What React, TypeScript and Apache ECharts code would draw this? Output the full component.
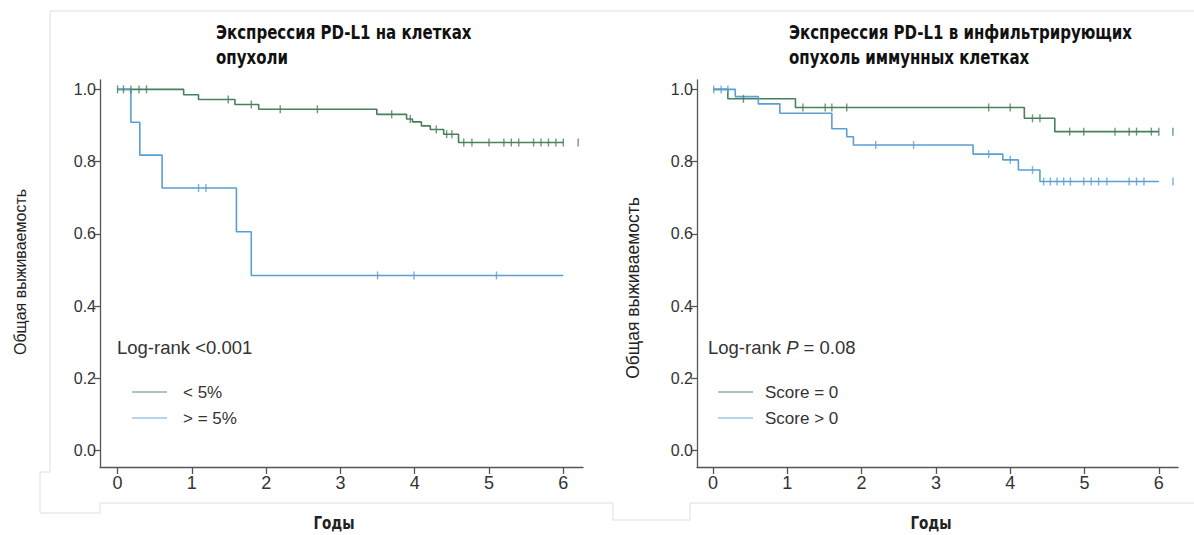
import React, { useEffect, useRef } from "react";
import * as echarts from "echarts";

// ---- axis ticks ----
const xTickValues = [0, 1, 2, 3, 4, 5, 6];
const yTickValues = [0, 0.2, 0.4, 0.6, 0.8, 1.0];

// ---- left panel: PD-L1 on tumour cells ----
const leftLowTimes = [0, 0.89, 1.09, 1.58, 1.9, 3.49, 3.89, 3.97, 4.09, 4.21, 4.39, 4.59, 6.0];
const leftLowSurv = [1, 0.985, 0.972, 0.958, 0.945, 0.931, 0.918, 0.91, 0.899, 0.889, 0.876, 0.853, 0.853];
const leftLowCensor = [0.0, 0.08, 0.18, 0.29, 0.39, 1.49, 1.8, 2.19, 2.69, 3.69, 3.94, 4.29, 4.43, 4.5, 4.66, 4.77, 5.0, 5.2, 5.3, 5.4, 5.6, 5.7, 5.8, 5.9, 6.0, 6.2];

const leftHighTimes = [0, 0.18, 0.3, 0.6, 1.6, 1.8, 6.0];
const leftHighSurv = [1, 0.909, 0.818, 0.727, 0.606, 0.485, 0.485];
const leftHighCensor = [1.09, 1.19, 3.5, 3.99, 5.1];

// ---- right panel: PD-L1 on tumour-infiltrating immune cells ----
const rightZeroTimes = [0, 0.2, 1.11, 4.19, 4.6, 6.0];
const rightZeroSurv = [1, 0.974, 0.95, 0.92, 0.883, 0.883];
const rightZeroCensor = [0.41, 1.21, 1.51, 1.6, 1.8, 3.71, 4.0, 4.3, 4.4, 4.8, 4.99, 5.41, 5.6, 5.7, 5.9, 6.0, 6.19];

const rightPosTimes = [0, 0.3, 0.61, 0.9, 1.6, 1.8, 1.89, 3.5, 3.9, 4.11, 4.4, 6.0];
const rightPosSurv = [1, 0.98, 0.96, 0.934, 0.891, 0.869, 0.846, 0.821, 0.805, 0.777, 0.745, 0.745];
const rightPosCensor = [0.01, 0.11, 0.2, 2.19, 2.7, 3.71, 4.0, 4.3, 4.45, 4.54, 4.63, 4.72, 4.81, 4.99, 5.09, 5.19, 5.3, 5.6, 5.7, 5.8, 6.19];

// ---- texts ----
const leftTitle = "Экспрессия PD-L1 на клетках\nопухоли";
const rightTitle = "Экспрессия PD-L1 в инфильтрирующих\nопухоль иммунных клетках";
const yName = "Общая выживаемость";
const xName = "Годы";
const leftLegend = ["< 5%", "> = 5%"];
const rightLegend = ["Score = 0", "Score > 0"];

const GREEN = "#47805c";
const BLUE = "#5a9fd3";
const BOLDF = "'DejaVu Sans', 'Liberation Sans', sans-serif";
const SANS = "'Liberation Sans', Arial, Helvetica, sans-serif";

function pairs(t: number[], s: number[]) {
  return t.map((v, i) => [v, s[i]]);
}
function survAt(t: number[], s: number[], x: number) {
  let v = s[0];
  for (let i = 0; i < t.length; i++) if (t[i] <= x) v = s[i];
  return v;
}
function censorPts(t: number[], s: number[], c: number[]) {
  return c.map((x) => [x, survAt(t, s, x)]);
}

export default function App() {
  const ref = useRef<HTMLDivElement>(null);
  useEffect(() => {
    if (!ref.current) return;
    const chart = echarts.init(ref.current, undefined, { renderer: "svg" });

    const xAxisBase = (grid: number, min: number, max: number) => ({
      type: "value",
      gridIndex: grid,
      min,
      max,
      splitLine: { show: false },
      axisLine: { onZero: false, lineStyle: { color: "#555", width: 1.3 } },
      axisTick: { customValues: xTickValues, length: 7, lineStyle: { color: "#555", width: 1.3 } },
      axisLabel: { customValues: xTickValues, margin: 7, fontSize: 18, color: "#333", fontFamily: SANS },
    });
    const yAxisBase = (grid: number) => ({
      type: "value",
      gridIndex: grid,
      min: -0.045,
      max: 1.026,
      splitLine: { show: false },
      axisLine: { onZero: false, lineStyle: { color: "#555", width: 1.3 } },
      axisTick: { customValues: yTickValues, length: 6, lineStyle: { color: "#555", width: 1.3 } },
      axisLabel: {
        customValues: yTickValues,
        margin: 4,
        fontSize: 16,
        color: "#333",
        fontFamily: SANS,
        formatter: (v: number) => v.toFixed(1),
      },
    });

    const lineSeries = (name: string, idx: number, data: number[][], color: string) => ({
      name,
      type: "line",
      step: "end",
      xAxisIndex: idx,
      yAxisIndex: idx,
      data,
      symbol: "none",
      lineStyle: { color, width: 1.6 },
      z: 3,
    });
    const censorSeries = (name: string, idx: number, data: number[][], color: string) => ({
      name: name + " censor",
      type: "scatter",
      xAxisIndex: idx,
      yAxisIndex: idx,
      data,
      symbol: "rect",
      symbolSize: [1.4, 8],
      itemStyle: { color },
      z: 4,
    });

    const frame = "#dedede";
    const legendItems = (x0: number, x1: number, tx: number, labels: string[]) => [
      { type: "line", shape: { x1: x0, y1: 392, x2: x1, y2: 392 }, style: { stroke: GREEN, lineWidth: 1.4, opacity: 0.6 } },
      { type: "line", shape: { x1: x0, y1: 418, x2: x1, y2: 418 }, style: { stroke: BLUE, lineWidth: 1.4, opacity: 0.6 } },
      { type: "text", x: tx, y: 392, style: { text: labels[0], fontSize: 17, fontFamily: SANS, fill: "#333", verticalAlign: "middle" } },
      { type: "text", x: tx, y: 418, style: { text: labels[1], fontSize: 17, fontFamily: SANS, fill: "#333", verticalAlign: "middle" } },
    ];
    const titleText = (x: number, text: string) => ({
      type: "text",
      x,
      y: 20,
      scaleX: 0.77,
      style: { text, fontSize: 19.5, fontWeight: "bold", fontFamily: BOLDF, fill: "#111", lineHeight: 25, verticalAlign: "top" },
    });
    const xNameText = (x: number) => ({
      type: "text",
      x,
      y: 523,
      scaleX: 0.8,
      style: { text: xName, fontSize: 17, fontWeight: "bold", fontFamily: BOLDF, fill: "#222", align: "center", verticalAlign: "middle" },
    });

    chart.setOption({
      animation: false,
      backgroundColor: "#ffffff",
      grid: [
        { left: 100, top: 80, width: 483, height: 387 },
        { left: 697, top: 80, width: 481, height: 387 },
      ],
      xAxis: [xAxisBase(0, -0.236, 6.265), xAxisBase(1, -0.215, 6.258)],
      yAxis: [yAxisBase(0), yAxisBase(1)],
      series: [
        lineSeries("< 5%", 0, pairs(leftLowTimes, leftLowSurv), GREEN),
        lineSeries(">= 5%", 0, pairs(leftHighTimes, leftHighSurv), BLUE),
        censorSeries("< 5%", 0, censorPts(leftLowTimes, leftLowSurv, leftLowCensor), GREEN),
        censorSeries(">= 5%", 0, censorPts(leftHighTimes, leftHighSurv, leftHighCensor), BLUE),
        lineSeries("Score = 0", 1, pairs(rightZeroTimes, rightZeroSurv), GREEN),
        lineSeries("Score > 0", 1, pairs(rightPosTimes, rightPosSurv), BLUE),
        censorSeries("Score = 0", 1, censorPts(rightZeroTimes, rightZeroSurv, rightZeroCensor), GREEN),
        censorSeries("Score > 0", 1, censorPts(rightPosTimes, rightPosSurv, rightPosCensor), BLUE),
      ],
      graphic: [
        // faint screenshot frame
        { type: "polyline", shape: { points: [[1194, 11], [50, 11], [50, 472], [40, 472], [40, 513], [100, 513], [100, 503], [613, 503], [613, 520], [690, 520], [690, 503], [1194, 503]] }, style: { stroke: frame, lineWidth: 1, fill: null } },
        titleText(216, leftTitle),
        titleText(789, rightTitle),
        xNameText(334),
        xNameText(931),
        // y axis names
        { type: "text", x: 20, y: 272, rotation: Math.PI / 2, style: { text: yName, fontSize: 16, fontFamily: SANS, fill: "#222", align: "center", verticalAlign: "middle" } },
        { type: "text", x: 633, y: 288, rotation: Math.PI / 2, style: { text: yName, fontSize: 17.5, fontFamily: SANS, fill: "#222", align: "center", verticalAlign: "middle" } },
        // log-rank notes
        { type: "text", x: 117, y: 347, style: { text: "Log-rank <0.001", fontSize: 18.5, fontFamily: SANS, fill: "#333", verticalAlign: "middle" } },
        {
          type: "text",
          x: 708,
          y: 347,
          style: {
            text: "{a|Log-rank }{p|P}{a| = 0.08}",
            verticalAlign: "middle",
            rich: {
              a: { fontSize: 18.5, fontFamily: SANS, fill: "#333" },
              p: { fontSize: 18.5, fontFamily: SANS, fontStyle: "italic", fill: "#333" },
            },
          },
        },
        ...legendItems(132, 167, 183, leftLegend),
        ...legendItems(718, 753, 765, rightLegend),
      ],
    });
    return () => chart.dispose();
  }, []);
  return <div ref={ref} style={{ position: "fixed", left: 0, top: 0, width: 1194, height: 535 }} />;
}
